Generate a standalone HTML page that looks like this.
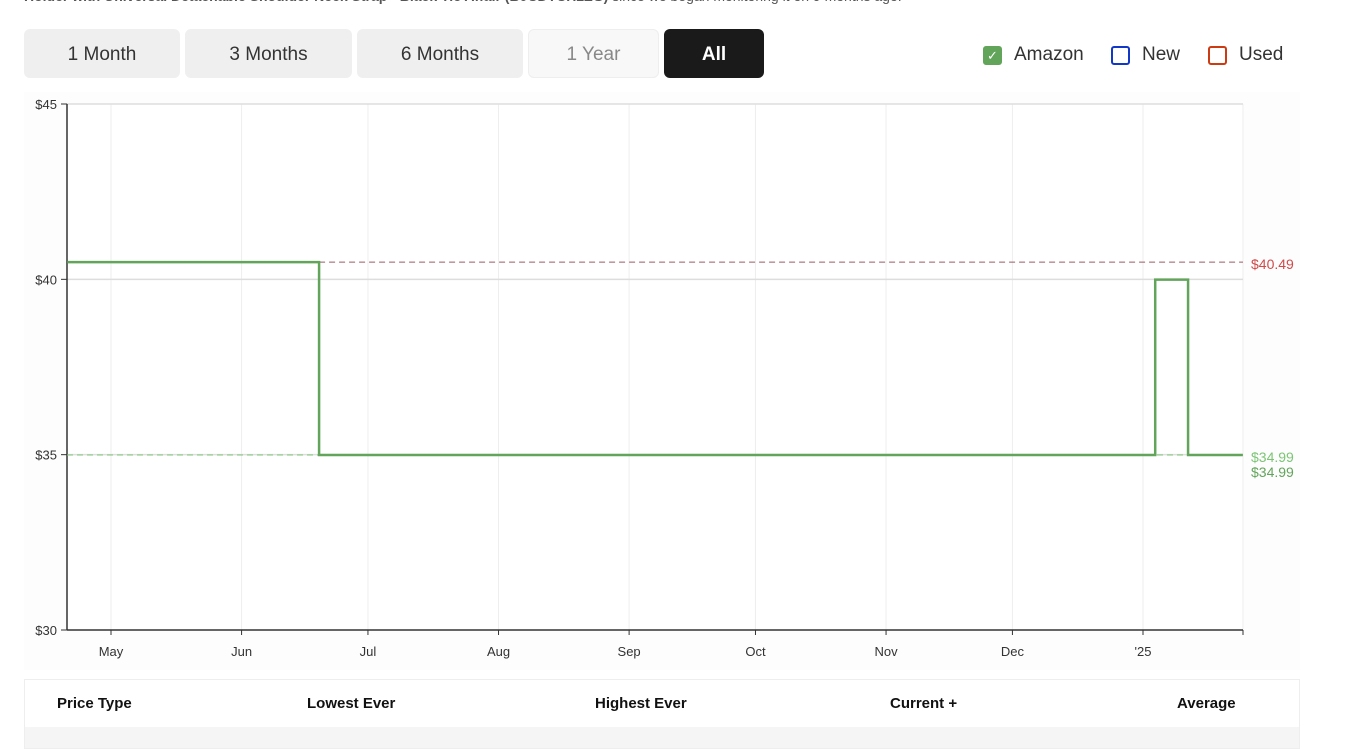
<!DOCTYPE html>
<html><head><meta charset="utf-8"><style>
body{margin:0;width:1352px;height:744px;overflow:hidden;background:#fff;font-family:"Liberation Sans",sans-serif;position:relative}
.top{position:absolute;left:24px;top:-12px;font-size:14px;color:#555;white-space:nowrap}
.btn{position:absolute;top:29px;height:49px;border-radius:6px;background:#efefef;color:#333;font-size:19px;display:flex;align-items:center;justify-content:center;padding-top:2px;box-sizing:border-box}
.leg{position:absolute;top:44px;font-size:19px;color:#333;display:flex;align-items:center}
.box{width:19px;height:19px;border-radius:3px;border:2px solid;margin-right:12px;box-sizing:border-box}
.th{position:absolute;top:695px;font-size:15px;font-weight:bold;color:#111}
</style></head><body>
<div class="top"><b>Holder with Universal Detachable Shoulder Neck Strap - Black Tie Affair (B0CDTCH2ZG)</b> since we began monitoring it on 9 months ago.</div>
<div class="btn" style="left:24px;width:156px">1 Month</div>
<div class="btn" style="left:185px;width:167px">3 Months</div>
<div class="btn" style="left:357px;width:166px">6 Months</div>
<div class="btn" style="left:528px;width:131px;background:#f8f8f8;color:#888;border:1px solid #eee">1 Year</div>
<div class="btn" style="left:664px;width:100px;background:#1a1a1a;color:#fff;font-weight:bold">All</div>
<div class="leg" style="left:983px"><div class="box" style="border-color:#62a55a;background:#62a55a;color:#fff;font-size:13px;text-align:center;line-height:15px">✓</div>Amazon</div>
<div class="leg" style="left:1111px"><div class="box" style="border-color:#1238c8"></div>New</div>
<div class="leg" style="left:1208px"><div class="box" style="border-color:#cc3b12"></div>Used</div>
<svg id="chart" width="1352" height="744" style="position:absolute;left:0;top:0"></svg>
<div style="position:absolute;left:24px;top:679px;width:1276px;height:70px;border:1px solid #eee;box-sizing:border-box"><div style="position:absolute;left:0;right:0;top:47px;bottom:0;background:#f5f5f5"></div></div>
<div class="th" style="left:57px">Price Type</div>
<div class="th" style="left:307px">Lowest Ever</div>
<div class="th" style="left:595px">Highest Ever</div>
<div class="th" style="left:890px">Current +</div>
<div class="th" style="left:1177px">Average</div>
<script>
const monthLabels=["May","Jun","Jul","Aug","Sep","Oct","Nov","Dec","'25"];
const monthDays=[0,31,61,92,123,153,184,214,245];
const yTicks=[30,35,40,45];
const stepDays=[-10.4,49.4,247.9,255.7,268.7];
const stepPrices=[40.49,34.99,39.99,34.99,34.99];
const highestPrice=40.49, lowestPrice=34.99, currentPrice=34.99;
const NS="http://www.w3.org/2000/svg",svg=document.getElementById('chart');
const X0=67,X1=1243,Y0=630,Y1=104;
const xs=d=>111+d*(1032/245);
const ys=p=>Y0-(p-30)*(Y0-Y1)/15;
function mk(t,a,txt){const e=document.createElementNS(NS,t);for(const k in a)e.setAttribute(k,a[k]);if(txt!=null)e.textContent=txt;svg.appendChild(e);return e;}
mk('rect',{x:24,y:92,width:1276,height:578,fill:'#fdfdfd'});
mk('rect',{x:X0,y:Y1,width:X1-X0,height:Y0-Y1,fill:'#fff'});
monthDays.forEach((d,i)=>{const x=xs(d);
 const g=mk('line',{x1:x,x2:x,y1:Y1,y2:Y0,stroke:'#eee'});
 
 mk('line',{x1:x,x2:x,y1:Y0,y2:Y0+5,stroke:'#333'});
 const t=mk('text',{x:x,y:656,'text-anchor':'middle','font-size':13,fill:'#333'},monthLabels[i]);
 });
mk('line',{x1:X1,x2:X1,y1:Y0,y2:Y0+5,stroke:'#333'});
mk('line',{x1:X1,x2:X1,y1:Y1,y2:Y0,stroke:'#eee'});
yTicks.forEach(v=>{const y=ys(v);
 if(v>30){const g=mk('line',{x1:X0,x2:X1,y1:y,y2:y,stroke:'#ddd','stroke-width':1.5});}
 mk('line',{x1:X0-6,x2:X0,y1:y,y2:y,stroke:'#333'});
 const t=mk('text',{x:X0-10,y:y+5,'text-anchor':'end','font-size':13,fill:'#333'},'$'+v);
 });
mk('line',{x1:X0,x2:X0,y1:Y1,y2:Y0,stroke:'#333','stroke-width':1.5});
mk('line',{x1:X0,x2:X1,y1:Y0,y2:Y0,stroke:'#333','stroke-width':1.5});
const hl=mk('line',{x1:xs(stepDays[1]),x2:X1,y1:ys(highestPrice),y2:ys(highestPrice),stroke:'#9b5a66','stroke-dasharray':'6,4'});

const ll=mk('line',{x1:X0,x2:X1,y1:ys(lowestPrice),y2:ys(lowestPrice),stroke:'#7cc575','stroke-dasharray':'6,4'});

let d='';for(let i=0;i<stepDays.length-1;i++){const x1=xs(stepDays[i]),x2=xs(stepDays[i+1]),y=ys(stepPrices[i]);d+=(i?'L':'M')+x1+','+y+'L'+x2+','+y;}
const p=mk('path',{d:d,fill:'none',stroke:'#62a55a','stroke-width':2.5});

const a=mk('text',{x:1251,y:ys(highestPrice)+7,'font-size':14,fill:'#d04a4a'},'$'+highestPrice.toFixed(2));

const b=mk('text',{x:1251,y:ys(lowestPrice)+7,'font-size':14,fill:'#7cc575'},'$'+lowestPrice.toFixed(2));

const c=mk('text',{x:1251,y:ys(currentPrice)+22,'font-size':14,fill:'#62a55a'},'$'+currentPrice.toFixed(2));

</script>
</body></html>
